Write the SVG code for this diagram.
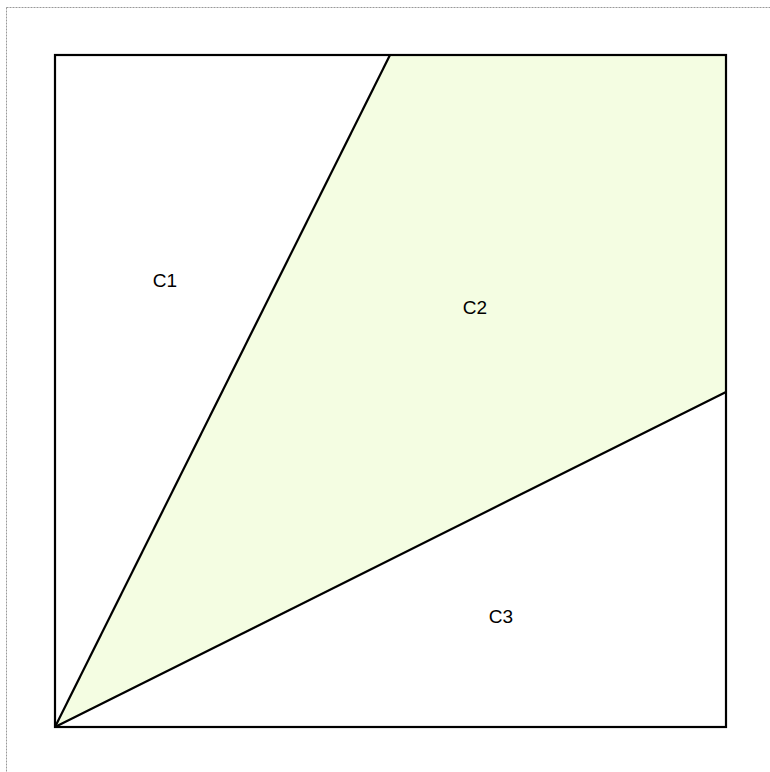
<svg xmlns="http://www.w3.org/2000/svg" width="770" height="772" viewBox="0 0 770 772">
<style>
.ln{stroke:#000;stroke-width:2.2;fill:none;stroke-linejoin:miter}
.lbl{font-family:"Liberation Sans",Arial,sans-serif;font-size:19px;fill:#000;text-anchor:middle}
</style>
<rect x="0" y="0" width="770" height="772" fill="#fff"/>
<rect x="6.5" y="7.5" width="800" height="800" fill="none" stroke="#999" stroke-width="1" stroke-dasharray="2,1"/>
<g id="C1">
<polygon points="55,55 390,55 55,727" fill="#fff"/>
<text class="lbl" x="165" y="287">C1</text>
</g>
<g id="C2">
<polygon points="390,55 726,55 726,392 55,727" fill="#f4fde2"/>
<text class="lbl" x="475" y="314">C2</text>
</g>
<g id="C3">
<polygon points="55,727 726,392 726,727" fill="#fff"/>
<text class="lbl" x="501" y="623">C3</text>
</g>
<g id="connectors">
<rect class="ln" x="55" y="55" width="671" height="672"/>
<line class="ln" x1="390" y1="55" x2="55" y2="727"/>
<line class="ln" x1="726" y1="392" x2="55" y2="727"/>
</g>
</svg>
